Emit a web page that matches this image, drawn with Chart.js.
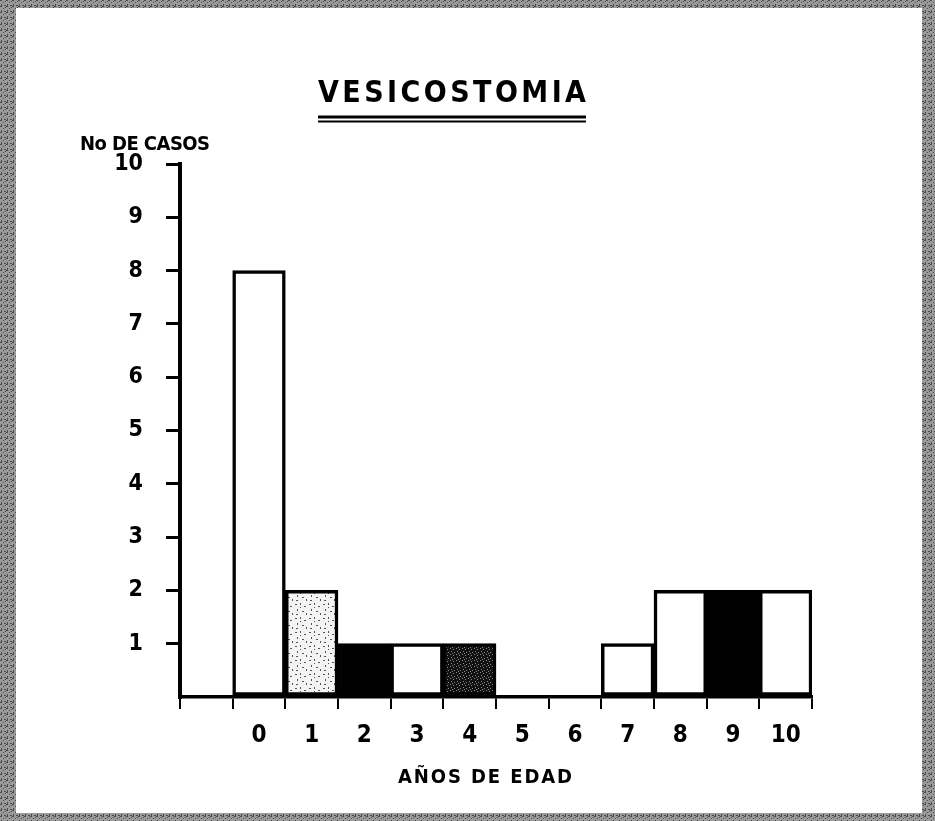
<!DOCTYPE html>
<html>
<head>
<meta charset="utf-8">
<script src="https://cdn.jsdelivr.net/npm/chart.js@4.4.1/dist/chart.umd.min.js"></script>
<style>
  html, body { margin: 0; padding: 0; background: #fff; }
  canvas { display: block; }
</style>
</head>
<body>
<canvas id="grafica" width="935" height="821"></canvas>
<script>
// Datos de la gráfica
const edades = ['0', '1', '2', '3', '4', '5', '6', '7', '8', '9', '10'];
const casos = [8, 2, 1, 1, 1, 0, 0, 1, 2, 2, 2];
const marcasY = [1, 2, 3, 4, 5, 6, 7, 8, 9, 10];
const titulo = 'VESICOSTOMIA';
const tituloY = 'No DE CASOS';
const tituloX = 'AÑOS DE EDAD';
// tipo de relleno de cada barra (como en el original impreso)
const rellenos = ['blanco', 'moteado', 'negro', 'blanco', 'punteado', 'blanco', 'blanco', 'blanco', 'blanco', 'negro', 'blanco'];

const FUENTE = "'Liberation Sans Narrow', 'DejaVu Sans Condensed', 'Liberation Sans', 'DejaVu Sans', sans-serif";

// Crea un patrón pequeño a partir de una lista de puntos
function crearPatron(tam, fondo, color, puntos) {
    const c = document.createElement('canvas');
    c.width = tam;
    c.height = tam;
    const g = c.getContext('2d');
    g.fillStyle = fondo;
    g.fillRect(0, 0, tam, tam);
    g.fillStyle = color;
    puntos.forEach(p => g.fillRect(p[0], p[1], p[2] || 1, p[3] || 1));
    return g.createPattern(c, 'repeat');
}

const ctxBase = document.getElementById('grafica').getContext('2d');
const patrones = {
    blanco: '#ffffff',
    negro: '#000000',
    moteado: crearPatron(14, '#f4f4f4', '#555555', [[1, 2, 2, 1], [6, 1, 1, 2], [10, 4, 2, 1], [3, 7, 1, 2], [8, 9, 2, 1], [12, 11, 1, 2], [2, 12, 2, 1], [6, 5, 1, 1]]),
    punteado: crearPatron(6, '#111111', '#8a8a8a', [[0, 0], [3, 1], [1, 3], [4, 4], [2, 5]])
};
const patronMarco = crearPatron(6, '#9a9a9a', '#4a4a4a', [[0, 0, 2, 1], [3, 2], [1, 4, 1, 2], [4, 5, 2, 1], [5, 1]]);

// Escribe un texto con separación entre letras para que ocupe un ancho dado
function textoEspaciado(ctx, texto, x, y, ancho) {
    const letras = texto.split('');
    const anchos = letras.map(l => ctx.measureText(l).width);
    const total = anchos.reduce((a, b) => a + b, 0);
    const hueco = letras.length > 1 ? (ancho - total) / (letras.length - 1) : 0;
    let pos = x;
    letras.forEach((l, i) => {
        ctx.fillText(l, pos, y);
        pos += anchos[i] + hueco;
    });
}

// Fondo con marco gris de la hoja escaneada
const marco = {
    id: 'marco',
    beforeDraw(chart) {
        const ctx = chart.ctx;
        ctx.save();
        ctx.fillStyle = patronMarco;
        ctx.fillRect(0, 0, chart.width, chart.height);
        ctx.fillStyle = '#ffffff';
        ctx.fillRect(16, 8, 906, 805);
        ctx.restore();
    }
};

// Títulos y subrayado doble
const textos = {
    id: 'textos',
    afterDraw(chart) {
        const ctx = chart.ctx;
        ctx.save();
        ctx.fillStyle = '#000';
        ctx.textBaseline = 'alphabetic';
        ctx.textAlign = 'left';

        ctx.font = 'bold 30px ' + FUENTE;
        textoEspaciado(ctx, titulo, 318, 102, 268);

        ctx.strokeStyle = '#000';
        ctx.lineWidth = 3;
        ctx.beginPath();
        ctx.moveTo(318, 117);
        ctx.lineTo(586, 117);
        ctx.stroke();
        ctx.lineWidth = 2;
        ctx.beginPath();
        ctx.moveTo(318, 121.5);
        ctx.lineTo(586, 121.5);
        ctx.stroke();

        ctx.font = 'bold 20px ' + FUENTE;
        textoEspaciado(ctx, tituloY, 80, 150, 130);
        textoEspaciado(ctx, tituloX, 398, 783, 174);
        ctx.restore();
    }
};

new Chart(ctxBase, {
    type: 'bar',
    data: {
        labels: [''].concat(edades),
        datasets: [{
            data: [null].concat(casos),
            backgroundColor: [null].concat(rellenos.map(r => patrones[r])),
            borderColor: '#000',
            borderWidth: 3.5,
            borderSkipped: false,
            barPercentage: 1,
            categoryPercentage: 1
        }]
    },
    options: {
        responsive: false,
        devicePixelRatio: 1,
        animation: false,
        layout: { padding: { left: 0, right: 123, top: 164, bottom: 0 } },
        plugins: {
            legend: { display: false },
            tooltip: { enabled: false }
        },
        scales: {
            x: {
                grid: {
                    offset: true,
                    drawOnChartArea: false,
                    tickLength: 12,
                    lineWidth: 2,
                    color: '#000'
                },
                border: { color: '#000', width: 3.5 },
                ticks: {
                    color: '#000',
                    padding: 12,
                    maxRotation: 0,
                    autoSkip: false,
                    font: { family: FUENTE, size: 24, weight: 'bold' }
                },
                afterFit(scale) { scale.height = 124; }
            },
            y: {
                min: 0,
                max: 10,
                grid: {
                    drawOnChartArea: false,
                    tickLength: 14,
                    lineWidth: 3,
                    color: ctx => (ctx.tick && marcasY.includes(ctx.tick.value)) ? '#000' : 'rgba(0,0,0,0)'
                },
                border: { color: '#000', width: 4 },
                ticks: {
                    stepSize: 1,
                    color: '#000',
                    padding: 23,
                    font: { family: FUENTE, size: 23, weight: 'bold' },
                    callback: v => marcasY.includes(v) ? String(v) : ''
                },
                afterFit(scale) { scale.width = 180; }
            }
        }
    },
    plugins: [marco, textos]
});
</script>
</body>
</html>
